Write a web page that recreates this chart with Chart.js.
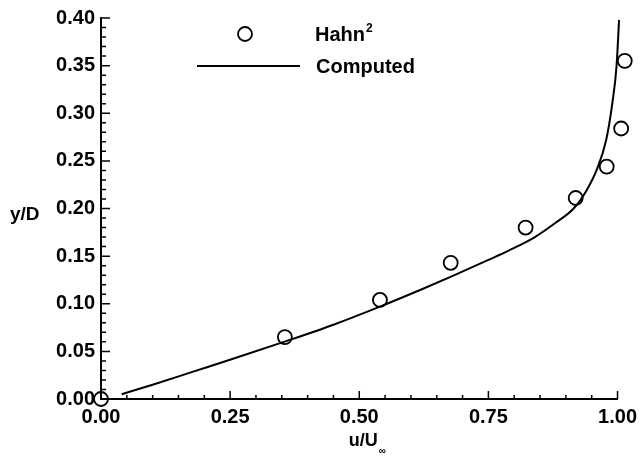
<!DOCTYPE html>
<html>
<head>
<meta charset="utf-8">
<script src="https://cdn.jsdelivr.net/npm/chart.js@4.4.0/dist/chart.umd.min.js"></script>
<style>
  html, body { margin: 0; padding: 0; background: #fff; }
  canvas { display: block; }
</style>
</head>
<body>
<canvas id="chart" width="643" height="457"></canvas>
<script>
// measured (Hahn) profile, listed from the top of the plot down
var hahnU = [1.014, 1.007, 0.979, 0.919, 0.822, 0.677, 0.540, 0.356, 0.00];
var hahnY = [0.355, 0.284, 0.244, 0.211, 0.180, 0.143, 0.104, 0.065, 0.000];

// computed profile
var computedU = [0.04, 0.10, 0.18, 0.26, 0.36, 0.45, 0.54, 0.62, 0.68, 0.75,
  0.79, 0.84, 0.88, 0.915, 0.94, 0.96, 0.978, 0.990, 0.998, 1.003];
var computedY = [0.005, 0.015, 0.029, 0.043, 0.061, 0.078, 0.097, 0.115, 0.129, 0.146,
  0.156, 0.170, 0.185, 0.200, 0.219, 0.241, 0.272, 0.311, 0.349, 0.398];

var xTicks = [0.00, 0.25, 0.50, 0.75, 1.00];
var yTicks = [0.00, 0.05, 0.10, 0.15, 0.20, 0.25, 0.30, 0.35, 0.40];
var xMinorStep = 0.05;
var yMinorStep = 0.01;

var FONT = "'Liberation Sans', Arial, Helvetica, sans-serif";

function toPoints(xs, ys) {
  return xs.map(function (x, i) {
    return { x: x, y: ys[i] };
  });
}

// ticks point into the plot, like the original
var innerTicks = {
  id: "innerTicks",
  afterDraw: function (chart) {
    var ctx = chart.ctx;
    var a = chart.chartArea;
    var xs = chart.scales.x;
    var ys = chart.scales.y;
    ctx.save();
    ctx.strokeStyle = "#000";
    ctx.lineWidth = 1.5;
    ctx.beginPath();
    var n = Math.round((xs.max - xs.min) / xMinorStep);
    for (var i = 0; i <= n; i++) {
      var px = xs.getPixelForValue(xs.min + i * xMinorStep);
      var len = i % 5 === 0 ? 8 : 4;
      ctx.moveTo(px, a.bottom);
      ctx.lineTo(px, a.bottom - len);
    }
    n = Math.round((ys.max - ys.min) / yMinorStep);
    for (i = 0; i <= n; i++) {
      var py = ys.getPixelForValue(ys.min + i * yMinorStep);
      len = i % 5 === 0 ? 9 : 5;
      ctx.moveTo(a.left, py);
      ctx.lineTo(a.left + len, py);
    }
    ctx.stroke();
    ctx.restore();
  },
};

// legend inside the plot + axis titles
var labels = {
  id: "labels",
  afterDraw: function (chart) {
    var ctx = chart.ctx;
    var a = chart.chartArea;
    ctx.save();
    ctx.fillStyle = "#000";
    ctx.strokeStyle = "#000";
    ctx.textBaseline = "middle";
    ctx.textAlign = "left";

    // legend
    ctx.lineWidth = 1.8;
    ctx.beginPath();
    ctx.arc(245, 34, 7, 0, Math.PI * 2);
    ctx.stroke();
    ctx.lineWidth = 2;
    ctx.beginPath();
    ctx.moveTo(197, 66);
    ctx.lineTo(300, 66);
    ctx.stroke();

    ctx.font = "bold 20px " + FONT;
    ctx.fillText("Hahn", 315, 35);
    var w = ctx.measureText("Hahn").width;
    ctx.font = "bold 12px " + FONT;
    ctx.fillText("2", 315 + w + 1, 29);
    ctx.font = "bold 20px " + FONT;
    ctx.fillText("Computed", 316, 67);

    // y title
    ctx.font = "bold 19px " + FONT;
    ctx.fillText("y/D", 10, 215);

    // x title with subscript
    ctx.font = "bold 18px " + FONT;
    var t = "u/U";
    var tw = ctx.measureText(t).width;
    var cx = (a.left + a.right) / 2 + 4;
    ctx.fillText(t, cx - tw / 2, 441);
    ctx.font = "bold 10px " + FONT;
    ctx.fillText("\u221E", cx + tw / 2 + 1, 451);
    ctx.restore();
  },
};

var ctx = document.getElementById("chart").getContext("2d");
var chart = new Chart(ctx, {
  type: "scatter",
  data: {
    datasets: [
      {
        label: "Hahn",
        data: toPoints(hahnU, hahnY),
        pointStyle: "circle",
        pointRadius: 7,
        pointBorderWidth: 1.8,
        pointBorderColor: "#000",
        pointBackgroundColor: "rgba(0,0,0,0)",
        clip: false,
      },
      {
        label: "Computed",
        data: toPoints(computedU, computedY),
        showLine: true,
        borderColor: "#000",
        borderWidth: 2,
        pointRadius: 0,
        cubicInterpolationMode: "monotone",
        clip: false,
      },
    ],
  },
  options: {
    responsive: false,
    animation: false,
    layout: {
      padding: { top: 18, right: 25, left: 0, bottom: 0 },
    },
    plugins: {
      legend: { display: false },
      tooltip: { enabled: false },
    },
    scales: {
      x: {
        type: "linear",
        min: 0,
        max: 1,
        afterBuildTicks: function (scale) {
          scale.ticks = xTicks.map(function (v) { return { value: v }; });
        },
        afterFit: function (scale) {
          scale.height = 58;
        },
        grid: { display: false, drawTicks: false },
        border: { display: true, color: "#000", width: 2 },
        ticks: {
          padding: 6,
          color: "#000",
          font: { family: FONT, size: 20, weight: "bold" },
          maxRotation: 0,
          callback: function (v) { return v.toFixed(2); },
        },
      },
      y: {
        type: "linear",
        min: 0,
        max: 0.4,
        afterBuildTicks: function (scale) {
          scale.ticks = yTicks.map(function (v) { return { value: v }; });
        },
        afterFit: function (scale) {
          scale.width = 101;
        },
        grid: { display: false, drawTicks: false },
        border: { display: true, color: "#000", width: 2 },
        ticks: {
          padding: 6,
          color: "#000",
          font: { family: FONT, size: 20, weight: "bold" },
          callback: function (v) { return v.toFixed(2); },
        },
      },
    },
  },
  plugins: [innerTicks, labels],
});
</script>
</body>
</html>
